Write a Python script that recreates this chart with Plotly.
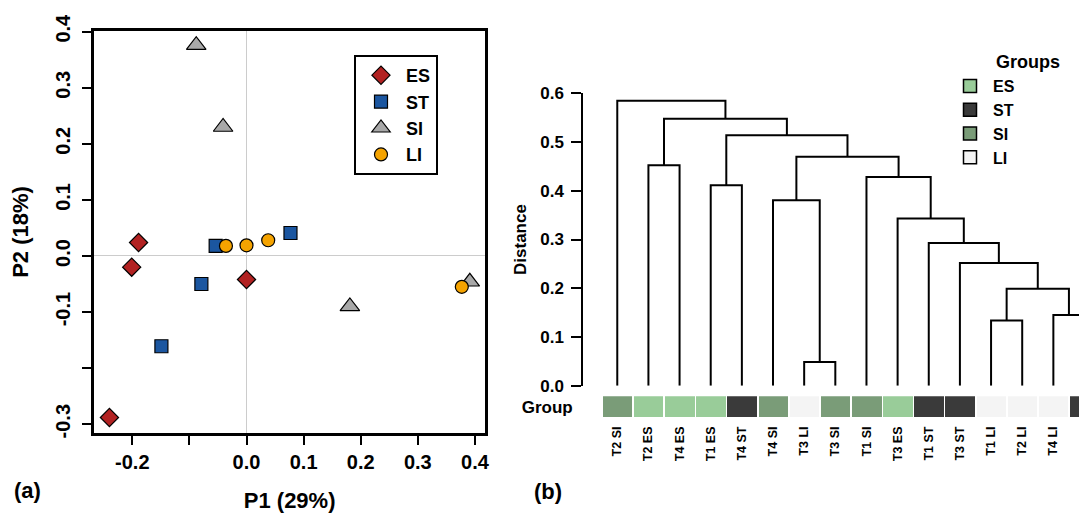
import plotly.graph_objects as go

# ---------------- Panel (a): PCoA scatter ----------------
groups = ["ES", "ST", "SI", "LI"]
es_p1 = [-0.189, -0.201, 0.000, -0.240]
es_p2 = [0.024, -0.020, -0.042, -0.288]
st_p1 = [-0.054, 0.077, -0.079, -0.149]
st_p2 = [0.018, 0.041, -0.050, -0.161]
si_p1 = [-0.088, -0.041, 0.181, 0.391]
si_p2 = [0.376, 0.230, -0.090, -0.046]
li_p1 = [-0.036, 0.000, 0.038, 0.377]
li_p2 = [0.018, 0.019, 0.028, -0.055]

point_colors = {"ES": "#B22222", "ST": "#1B56A0", "SI": "#A8A8A8", "LI": "#F5A300"}
point_symbols = {"ES": "diamond", "ST": "square", "SI": "triangle-up", "LI": "circle"}
point_sizes = {"ES": 14, "ST": 13, "SI": 17, "LI": 13}
pc_x = {"ES": es_p1, "ST": st_p1, "SI": si_p1, "LI": li_p1}
pc_y = {"ES": es_p2, "ST": st_p2, "SI": si_p2, "LI": li_p2}

x_ticks = [-0.2, -0.1, 0.0, 0.1, 0.2, 0.3, 0.4]
x_ticktext = ["-0.2", "", "0.0", "0.1", "0.2", "0.3", "0.4"]
y_ticks = [-0.3, -0.2, -0.1, 0.0, 0.1, 0.2, 0.3, 0.4]
y_ticktext = ["-0.3", "", "-0.1", "0.0", "0.1", "0.2", "0.3", "0.4"]

# ---------------- Panel (b): dendrogram ----------------
leaf_labels = ["T2 SI", "T2 ES", "T4 ES", "T1 ES", "T4 ST", "T4 SI", "T3 LI", "T3 SI",
               "T1 SI", "T3 ES", "T1 ST", "T3 ST", "T1 LI", "T2 LI", "T4 LI", "T2 ST"]
leaf_groups = ["SI", "ES", "ES", "ES", "ST", "SI", "LI", "SI",
               "SI", "ES", "ST", "ST", "LI", "LI", "LI", "ST"]
# merges: children are leaf labels or "#k" (k-th merge)
merge_left = ["T1 LI", "T4 LI", "#0", "T3 ST", "T1 ST", "T3 ES", "T1 SI", "T3 LI",
              "T4 SI", "#8", "T1 ES", "#10", "T2 ES", "#12", "T2 SI"]
merge_right = ["T2 LI", "T2 ST", "#1", "#2", "#3", "#4", "#5", "T3 SI",
               "#7", "#6", "T4 ST", "#9", "T4 ES", "#11", "#13"]
merge_height = [0.134, 0.145, 0.199, 0.252, 0.293, 0.343, 0.4285, 0.0487,
                0.3806, 0.4696, 0.4114, 0.514, 0.4525, 0.5476, 0.5846]
dist_ticks = [0.0, 0.1, 0.2, 0.3, 0.4, 0.5, 0.6]

group_colors = {"ES": "#99CC99", "ST": "#3A3A3A", "SI": "#7A9C78", "LI": "#F4F4F4"}

# compute dendrogram segments
node_pos = {}
node_h = {}
for i, lab in enumerate(leaf_labels):
    node_pos[lab] = float(i)
    node_h[lab] = 0.0
seg_x, seg_y = [], []
for k, (a, b, h) in enumerate(zip(merge_left, merge_right, merge_height)):
    xa, xb = node_pos[a], node_pos[b]
    ha, hb = node_h[a], node_h[b]
    seg_x += [xa, xa, xb, xb, None]
    seg_y += [ha, h, h, hb, None]
    node_pos["#%d" % k] = (xa + xb) / 2
    node_h["#%d" % k] = h

W, H = 1087, 513
OFF = 8  # page body margin offset
def px_x(p):
    return (p - OFF) / W
def px_y(p):
    return 1 - (p - OFF) / H

FONT = "Liberation Sans, Arial, sans-serif"

fig = go.Figure()

for g in groups:
    fig.add_trace(go.Scatter(
        x=pc_x[g], y=pc_y[g], mode="markers", name=g,
        marker=dict(symbol=point_symbols[g], size=point_sizes[g], color=point_colors[g],
                    line=dict(color="black", width=1.2)),
        xaxis="x", yaxis="y", legend="legend",
    ))

fig.add_trace(go.Scatter(
    x=seg_x, y=seg_y, mode="lines", line=dict(color="black", width=2),
    xaxis="x2", yaxis="y2", showlegend=False, hoverinfo="skip",
))

fig.add_trace(go.Bar(
    x=list(range(len(leaf_labels))), y=[1] * len(leaf_labels),
    marker=dict(color=[group_colors[g] for g in leaf_groups], line=dict(width=0)),
    width=0.947, xaxis="x2", yaxis="y3", showlegend=False, hoverinfo="skip",
))

for g in groups:
    fig.add_trace(go.Scatter(
        x=[None], y=[None], mode="markers", name=g,
        marker=dict(symbol="square", size=13, color=group_colors[g],
                    line=dict(color="black", width=1.5)),
        xaxis="x2", yaxis="y2", legend="legend2",
    ))

tick_font = dict(family=FONT, size=20, color="black", weight="bold")
fig.update_layout(
    width=W, height=H,
    margin=dict(l=0, r=0, t=0, b=0, autoexpand=False),
    paper_bgcolor="white", plot_bgcolor="white",
    font=dict(family=FONT, color="black"),
    showlegend=True,
    xaxis=dict(
        domain=[px_x(94.3), px_x(485)], range=[-0.2665, 0.4176],
        tickvals=x_ticks, ticktext=x_ticktext, tickfont=tick_font,
        ticks="outside", ticklen=9, tickwidth=1.5, tickcolor="black",
        showline=True, linewidth=3, linecolor="black", mirror=True,
        showgrid=False, zeroline=True, zerolinecolor="#cccccc", zerolinewidth=1,
        title=dict(text="P1 (29%)", font=dict(family=FONT, size=22, weight="bold"), standoff=21),
        anchor="y", automargin=False,
    ),
    yaxis=dict(
        domain=[px_y(433), px_y(31)], range=[-0.3157, 0.4012],
        tickvals=y_ticks, ticktext=y_ticktext, tickfont=tick_font, tickangle=-90,
        ticks="outside", ticklen=9, tickwidth=1.5, tickcolor="black",
        showline=True, linewidth=3, linecolor="black", mirror=True,
        showgrid=False, zeroline=True, zerolinecolor="#cccccc", zerolinewidth=1,
        ticklabelstandoff=4,
        title=dict(text="P2 (18%)", font=dict(family=FONT, size=22, weight="bold"), standoff=18),
        anchor="x", automargin=False,
    ),
    xaxis2=dict(
        domain=[px_x(601.7), 1.0], range=[-0.5, 15.08 + OFF / 31.15],
        tickvals=list(range(len(leaf_labels))), ticktext=leaf_labels, tickangle=-90,
        tickfont=dict(family=FONT, size=12.5, color="black", weight="bold"),
        ticks="", showline=False, showgrid=False, zeroline=False,
        anchor="y3", ticklabelstandoff=6, automargin=False,
    ),
    yaxis2=dict(
        domain=[px_y(385.7), px_y(93.3)], range=[0, 0.6],
        tickvals=dist_ticks, ticktext=["%.1f" % v for v in dist_ticks],
        tickfont=dict(family=FONT, size=17, color="black", weight="bold"),
        ticks="outside", ticklen=10, tickwidth=2, tickcolor="black",
        showline=True, linewidth=2, linecolor="black",
        showgrid=False, zeroline=False,
        anchor="free", position=px_x(582.3), ticklabelstandoff=4,
        title=dict(text="Distance", font=dict(family=FONT, size=17, weight="bold"), standoff=8),
        automargin=False,
    ),
    yaxis3=dict(
        domain=[px_y(417), px_y(396.3)], range=[0, 1],
        tickvals=[0.5], ticktext=["Group"],
        tickfont=dict(family=FONT, size=17, color="black", weight="bold"),
        ticks="", showline=False, showgrid=False, zeroline=False,
        anchor="x2", ticklabelstandoff=28, automargin=False,
    ),
    legend=dict(
        x=px_x(354), y=px_y(55), xanchor="left", yanchor="top",
        bordercolor="black", borderwidth=2, bgcolor="white",
        font=dict(family=FONT, size=18, color="black", weight="bold"),
        itemsizing="trace", tracegroupgap=0, itemwidth=40,
    ),
    legend2=dict(
        x=px_x(947), y=px_y(69), xanchor="left", yanchor="top",
        borderwidth=0, bgcolor="rgba(0,0,0,0)",
        font=dict(family=FONT, size=16, color="black", weight="bold"),
        itemsizing="trace", tracegroupgap=0, itemwidth=36,
    ),
    annotations=[
        dict(text="Groups", x=px_x(994), y=px_y(62), xref="paper", yref="paper",
             xanchor="left", yanchor="middle", showarrow=False,
             font=dict(family=FONT, size=18, color="black", weight="bold")),
        dict(text="(a)", x=px_x(12), y=px_y(490), xref="paper", yref="paper",
             xanchor="left", yanchor="middle", showarrow=False,
             font=dict(family=FONT, size=22, color="black", weight="bold")),
        dict(text="(b)", x=px_x(532), y=px_y(491), xref="paper", yref="paper",
             xanchor="left", yanchor="middle", showarrow=False,
             font=dict(family=FONT, size=22, color="black", weight="bold")),
    ],
    bargap=0,
)

fig.write_html("out.html")
